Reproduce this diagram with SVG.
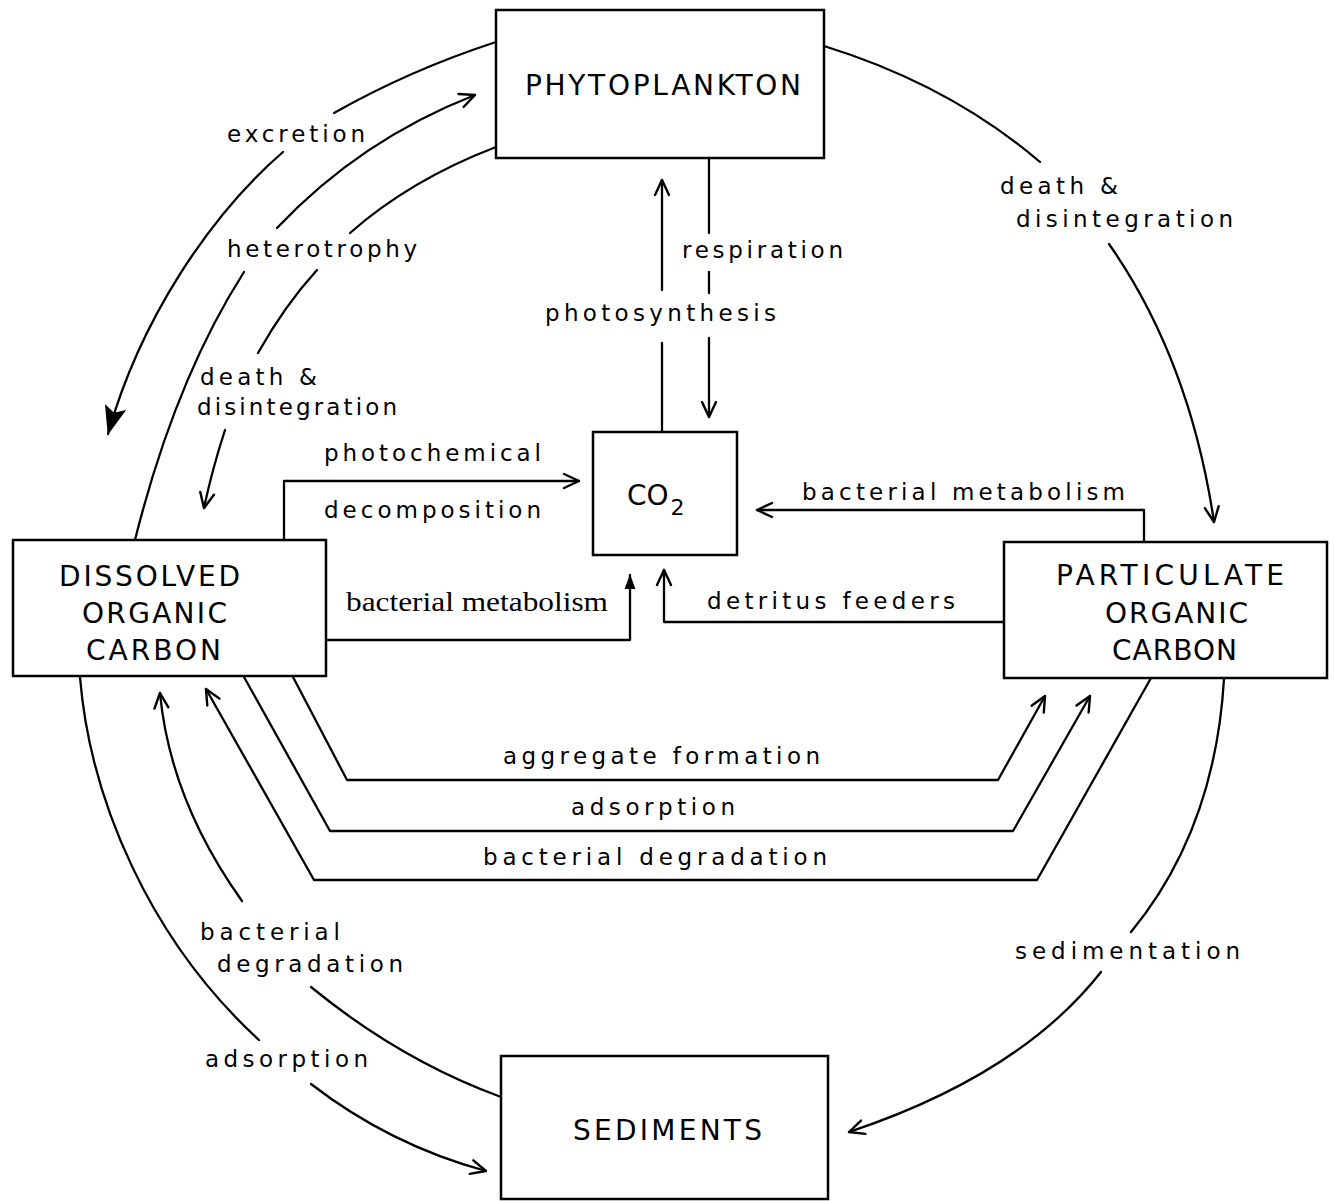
<svg xmlns="http://www.w3.org/2000/svg" width="1335" height="1201" viewBox="0 0 1335 1201">
<style>
.box{fill:#fff;stroke:#000;stroke-width:2.5}
.ln{fill:none;stroke:#000;stroke-width:2.3;stroke-linecap:round;stroke-linejoin:round}
.lb{font-family:"DejaVu Sans","Liberation Sans",sans-serif;font-size:23px;fill:#000}
.nd{font-family:"DejaVu Sans","Liberation Sans",sans-serif;font-size:28px;fill:#000}
.sf{font-family:"Liberation Serif","Times New Roman",serif;font-size:27px;fill:#000}
</style>
<defs>
<marker id="open" viewBox="0 0 20 20" refX="18" refY="10" markerWidth="20" markerHeight="20" markerUnits="userSpaceOnUse" orient="auto">
<path d="M3,3 L18,10 L3,17" fill="none" stroke="#000" stroke-width="2.4" stroke-linecap="round" stroke-linejoin="round"/>
</marker>
<marker id="fill" viewBox="0 0 20 20" refX="18" refY="10" markerWidth="16" markerHeight="16" markerUnits="userSpaceOnUse" orient="auto">
<path d="M0,3 L19,10 L0,17 Z" fill="#000"/>
</marker>
<marker id="big" viewBox="0 0 30 30" refX="28" refY="15" markerWidth="30" markerHeight="30" markerUnits="userSpaceOnUse" orient="auto">
<path d="M0,4 L29,15 L0,26 L6,15 Z" fill="#000"/>
</marker>
</defs>

<g id="connectors">
<!-- excretion -->
<path class="ln" d="M496,42 Q410,70 334,113"/>
<path class="ln" d="M283,152 C210,215 140,320 108,434" marker-end="url(#big)"/>
<!-- heterotrophy -->
<path class="ln" d="M135,540 Q175,380 244,272"/>
<path class="ln" d="M277,228 Q360,140 475,95" marker-end="url(#open)"/>
<!-- death & disintegration left -->
<path class="ln" d="M496,147 Q410,180 350,233"/>
<path class="ln" d="M317,270 Q285,305 258,353"/>
<path class="ln" d="M225,430 Q212,470 204,508" marker-end="url(#open)"/>
<!-- death & disintegration right -->
<path class="ln" d="M824,46 Q950,85 1040,162"/>
<path class="ln" d="M1109,244 Q1190,360 1214,522" marker-end="url(#open)"/>
<!-- photosynthesis -->
<path class="ln" d="M662,432 L662,343"/>
<path class="ln" d="M662,290 L662,180" marker-end="url(#open)"/>
<!-- respiration -->
<path class="ln" d="M709,158 L709,233"/>
<path class="ln" d="M709,272 L709,293"/>
<path class="ln" d="M709,338 L709,417" marker-end="url(#open)"/>
<!-- photochemical decomposition -->
<path class="ln" d="M284,540 L284,481 L579,481" marker-end="url(#open)"/>
<!-- bacterial metabolism (DOC) -->
<path class="ln" d="M326,640 L630,640 L630,575" marker-end="url(#fill)"/>
<!-- bacterial metabolism (POC) -->
<path class="ln" d="M1144,542 L1144,510 L757,510" marker-end="url(#open)"/>
<!-- detritus feeders -->
<path class="ln" d="M1004,622 L664,622 L664,570" marker-end="url(#open)"/>
<!-- aggregate formation -->
<path class="ln" d="M293,677 L347,780 L998,780 L1045,696" marker-end="url(#open)"/>
<!-- adsorption -->
<path class="ln" d="M244,677 L330,831 L1013,831 L1090,696" marker-end="url(#open)"/>
<!-- bacterial degradation -->
<path class="ln" d="M1151,678 L1037,880 L314,880 L206,689" marker-end="url(#open)"/>
<!-- bacterial degradation (sediments) -->
<path class="ln" d="M501,1097 Q400,1060 311,987"/>
<path class="ln" d="M242,901 Q170,800 160,693" marker-end="url(#open)"/>
<!-- adsorption (to sediments) -->
<path class="ln" d="M80,677 C90,800 150,940 259,1040"/>
<path class="ln" d="M311,1084 Q390,1145 486,1171" marker-end="url(#open)"/>
<!-- sedimentation -->
<path class="ln" d="M1224,679 Q1215,830 1131,932"/>
<path class="ln" d="M1101,972 Q1020,1075 849,1132" marker-end="url(#open)"/>
</g>

<g id="labels">
<text class="lb" x="227" y="142" textLength="138" lengthAdjust="spacing">excretion</text>
<text class="lb" x="227" y="257" textLength="190" lengthAdjust="spacing">heterotrophy</text>
<text class="lb" x="200" y="385" textLength="117" lengthAdjust="spacing">death &amp;</text>
<text class="lb" x="197" y="415" textLength="200" lengthAdjust="spacing">disintegration</text>
<text class="lb" x="324" y="461" textLength="217" lengthAdjust="spacing">photochemical</text>
<text class="lb" x="324" y="518" textLength="217" lengthAdjust="spacing">decomposition</text>
<text class="sf" x="346" y="611" textLength="262" lengthAdjust="spacingAndGlyphs">bacterial metabolism</text>
<text class="lb" x="682" y="258" textLength="161" lengthAdjust="spacing">respiration</text>
<text class="lb" x="545" y="321" textLength="231" lengthAdjust="spacing">photosynthesis</text>
<text class="lb" x="1000" y="194" textLength="118" lengthAdjust="spacing">death &amp;</text>
<text class="lb" x="1016" y="227" textLength="217" lengthAdjust="spacing">disintegration</text>
<text class="lb" x="802" y="500" textLength="323" lengthAdjust="spacing">bacterial metabolism</text>
<text class="lb" x="707" y="609" textLength="248" lengthAdjust="spacing">detritus feeders</text>
<text class="lb" x="503" y="764" textLength="317" lengthAdjust="spacing">aggregate formation</text>
<text class="lb" x="571" y="815" textLength="164" lengthAdjust="spacing">adsorption</text>
<text class="lb" x="483" y="865" textLength="344" lengthAdjust="spacing">bacterial degradation</text>
<text class="lb" x="200" y="940" textLength="140" lengthAdjust="spacing">bacterial</text>
<text class="lb" x="217" y="972" textLength="186" lengthAdjust="spacing">degradation</text>
<text class="lb" x="205" y="1067" textLength="163" lengthAdjust="spacing">adsorption</text>
<text class="lb" x="1015" y="959" textLength="225" lengthAdjust="spacing">sedimentation</text>
</g>

<g id="phytoplankton">
<rect class="box" x="496" y="10" width="328" height="148"/>
<text class="nd" x="525" y="95" textLength="276" lengthAdjust="spacing">PHYTOPLANKTON</text>
</g>
<g id="co2">
<rect class="box" x="593" y="432" width="144" height="123"/>
<text class="nd" x="627" y="505">CO<tspan dx="2" dy="10" style="font-size:22px">2</tspan></text>
</g>
<g id="doc">
<rect class="box" x="13" y="540" width="313" height="136"/>
<text class="nd" x="59" y="586" textLength="181" lengthAdjust="spacing">DISSOLVED</text>
<text class="nd" x="82" y="623" textLength="145" lengthAdjust="spacing">ORGANIC</text>
<text class="nd" x="86" y="660" textLength="135" lengthAdjust="spacing">CARBON</text>
</g>
<g id="poc">
<rect class="box" x="1004" y="542" width="323" height="136"/>
<text class="nd" x="1056" y="585" textLength="228" lengthAdjust="spacing">PARTICULATE</text>
<text class="nd" x="1105" y="623" textLength="143" lengthAdjust="spacing">ORGANIC</text>
<text class="nd" x="1112" y="660" textLength="125" lengthAdjust="spacing">CARBON</text>
</g>
<g id="sediments">
<rect class="box" x="501" y="1056" width="327" height="143"/>
<text class="nd" x="573" y="1140" textLength="189" lengthAdjust="spacing">SEDIMENTS</text>
</g>
</svg>
